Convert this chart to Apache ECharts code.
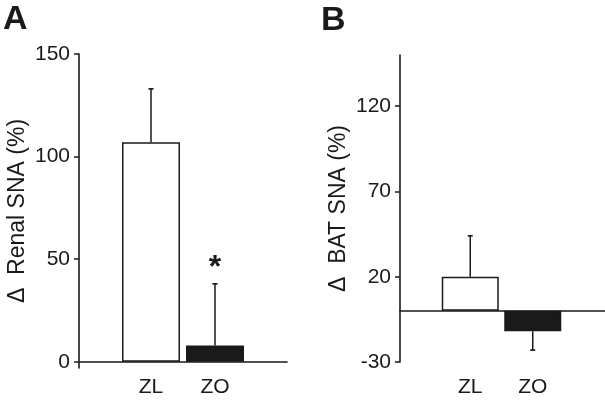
<!DOCTYPE html>
<html>
<head>
<meta charset="utf-8">
<script src="https://cdn.jsdelivr.net/npm/echarts@6/dist/echarts.min.js"></script>
<style>html,body{margin:0;padding:0;background:#fff}#c{width:605px;height:402px}</style>
</head>
<body>
<div id="c"></div>
<script>
// ---- data ----
const categories = ['ZL', 'ZO'];
const renalMean = [107, 8];
const renalErr = [26, 30];
const renalSig = [false, true];
const batMean = [20, -12];
const batErr = [24, 11];
const batSig = [false, false];
const renalTicks = [0, 50, 100, 150];
const batTicks = [-30, 20, 70, 120];
const renalName = 'Δ  Renal SNA (%)';
const batName = 'Δ  BAT SNA (%)';

const FONT = '"Liberation Sans", Arial, Helvetica, sans-serif';
const INK = '#1a1a1a';
const chart = echarts.init(document.getElementById('c'), null, {renderer: 'canvas'});

function barData(means) {
  return means.map((v, i) => ({
    value: v,
    itemStyle: i === 0
      ? {color: '#ffffff', borderColor: INK, borderWidth: 1.5}
      : {color: INK, borderColor: INK, borderWidth: 1.5}
  }));
}
function errData(means, errs, sig) {
  return means.map((v, i) => [i, v, errs[i], sig[i] ? 1 : 0]);
}
function renderErr(params, api) {
  const i = api.value(0), m = api.value(1), e = api.value(2), s = api.value(3);
  const end = m >= 0 ? m + e : m - e;
  const p0 = api.coord([i, m]);
  const p1 = api.coord([i, end]);
  const children = [
    {type: 'line', shape: {x1: p0[0], y1: p0[1], x2: p1[0], y2: p1[1]}, style: {stroke: INK, lineWidth: 1.5}},
    {type: 'line', shape: {x1: p1[0] - 2.5, y1: p1[1], x2: p1[0] + 2.5, y2: p1[1]}, style: {stroke: INK, lineWidth: 1.7}}
  ];
  if (s) {
    children.push({type: 'text', x: p1[0], y: p1[1] - 16,
      style: {text: '*', fontSize: 32, fontWeight: 'bold', fontFamily: FONT, fill: INK, align: 'center', verticalAlign: 'middle'}});
  }
  return {type: 'group', children};
}

function axisY(gridIndex, min, max, ticks, name, show) {
  return {
    type: 'value', gridIndex, min, max,
    show: show,
    splitLine: {show: false},
    axisLine: {show: true, lineStyle: {color: INK, width: 1.6}},
    axisTick: {show: true, length: 5, customValues: ticks, lineStyle: {color: INK, width: 1.5}},
    axisLabel: {customValues: ticks, fontSize: 21, color: INK, fontFamily: FONT, margin: 9},
    name: name, nameLocation: 'middle', nameGap: 50,
    nameTextStyle: {fontSize: 23, color: INK, fontFamily: FONT}
  };
}

const option = {
  backgroundColor: '#ffffff',
  animation: false,
  title: [
    {text: 'A', left: 3, top: 3, padding: 0, textStyle: {fontSize: 34, fontWeight: 'bold', color: INK, fontFamily: FONT}},
    {text: 'B', left: 321, top: 4, padding: 0, textStyle: {fontSize: 34, fontWeight: 'bold', color: INK, fontFamily: FONT}}
  ],
  grid: [
    {left: 79, width: 208, top: 54, height: 314},
    {left: 119, width: 128, top: 54, height: 314},
    {left: 400, width: 205, top: 55, height: 307},
    {left: 439, width: 125, top: 55, height: 307}
  ],
  xAxis: [
    {type: 'category', gridIndex: 0, data: categories, axisLine: {onZero: true, lineStyle: {color: INK, width: 1.6}}, axisTick: {show: false}, axisLabel: {show: false}},
    {type: 'category', gridIndex: 1, data: categories, axisLine: {show: false, onZero: false}, axisTick: {show: false},
      axisLabel: {fontSize: 21, color: INK, fontFamily: FONT, margin: 9}},
    {type: 'category', gridIndex: 2, data: categories, axisLine: {onZero: true, lineStyle: {color: INK, width: 1.6}}, axisTick: {show: false}, axisLabel: {show: false}},
    {type: 'category', gridIndex: 3, data: categories, axisLine: {show: false, onZero: false}, axisTick: {show: false},
      axisLabel: {fontSize: 21, color: INK, fontFamily: FONT, margin: 15}}
  ],
  yAxis: [
    axisY(0, -3, 150, renalTicks, renalName, true),
    axisY(1, -3, 150, renalTicks, '', false),
    axisY(2, -30, 150, batTicks, batName, true),
    axisY(3, -30, 150, batTicks, '', false)
  ],
  series: [
    {type: 'bar', xAxisIndex: 1, yAxisIndex: 1, barWidth: 58, data: barData(renalMean)},
    {type: 'custom', xAxisIndex: 1, yAxisIndex: 1, renderItem: renderErr, data: errData(renalMean, renalErr, renalSig), z: 5},
    {type: 'bar', xAxisIndex: 3, yAxisIndex: 3, barWidth: 57, data: barData(batMean)},
    {type: 'custom', xAxisIndex: 3, yAxisIndex: 3, renderItem: renderErr, data: errData(batMean, batErr, batSig), z: 5}
  ]
};
chart.setOption(option);
</script>
</body>
</html>
